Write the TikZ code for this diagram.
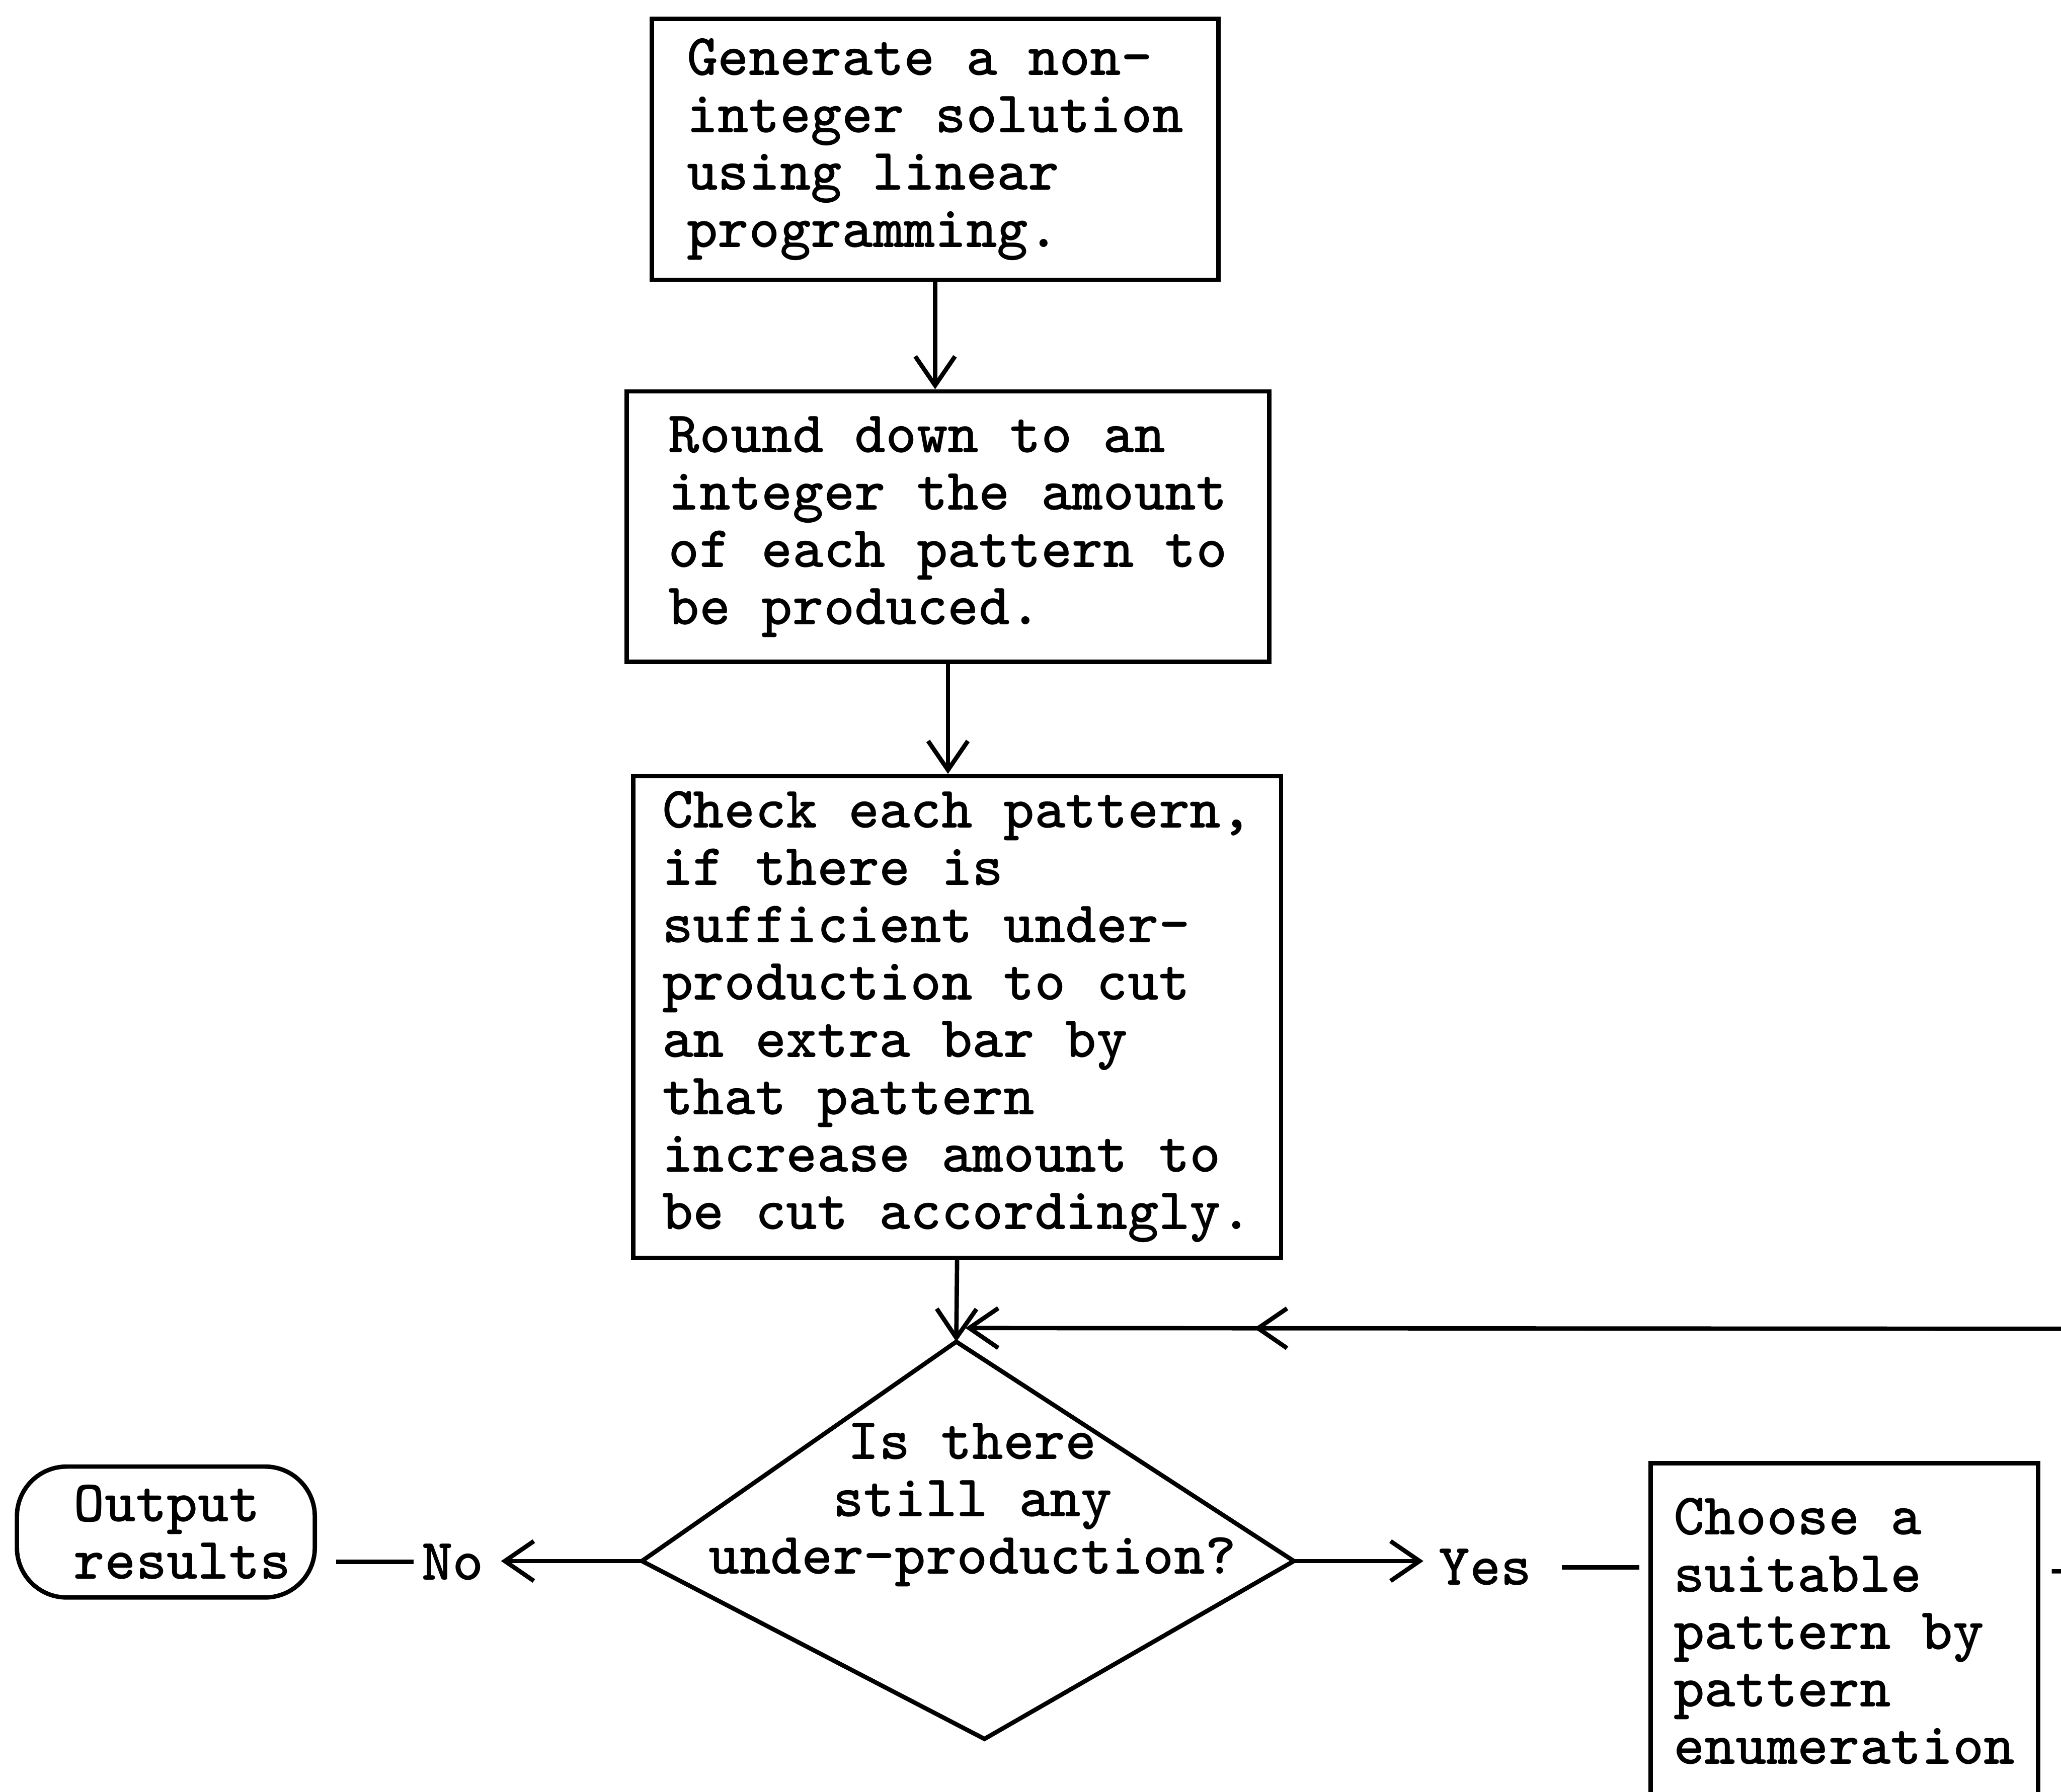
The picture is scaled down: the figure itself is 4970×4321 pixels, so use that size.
\documentclass[tikz,border=0pt]{standalone}
\usepackage{tikz}
\usetikzlibrary{shapes.geometric,arrows.meta,positioning,decorations.markings}

\begin{document}
\begin{tikzpicture}[x=0.005cm,y=-0.005cm,line width=1.5pt,
    every node/.style={font=\fontsize{20.3}{19.7}\selectfont\ttfamily\bfseries},
    process/.style={draw,align=left,inner sep=0pt},
    terminal/.style={draw,align=left,rounded corners=0.6cm,inner sep=0pt},
    answer/.style={inner sep=0pt},
    flow/.style={-{Straight Barb[length=0.35cm,width=0.48cm]}},
    back/.style={postaction={decorate},decoration={markings,
      mark=at position -3.585cm with {\arrow{Straight Barb[length=0.35cm,width=0.48cm]}}}}]
  \useasboundingbox (0,0) rectangle (4970,4321);
  \clip (0,0) rectangle (4970,4321);
  \node[process,minimum width=6.84cm,minimum height=3.15cm] (generate) at (2255,360) {Generate a non-\\integer solution\\using linear\\programming.};
  \node[process,minimum width=7.755cm,minimum height=3.265cm,below=1.295cm of generate,xshift=0.155cm] (rounddown) {Round down to an\\integer the amount\\of each pattern to\\be produced.};
  \node[process,minimum width=7.82cm,minimum height=5.815cm,below=1.325cm of rounddown,xshift=0.11cm] (check) {Check each pattern,\\if there is\\sufficient under-\\production to cut\\an extra bar by\\that pattern\\increase amount to\\be cut accordingly.};
  % decision
  \coordinate (dtop) at (2306,3236);
  \coordinate (dleft) at (1548,3765);
  \coordinate (dbottom) at (2374,4194);
  \coordinate (dright) at (3120,3765);
  \draw (dtop) -- (dleft) -- (dbottom) -- (dright) -- cycle;
  \node[align=center,inner sep=0pt] (question) at (2345,3630) {Is there\\still any\\under-production?};
  \coordinate (join) at (2308,3203);
  \node[answer] (yes) at (3582,3780) {Yes};
  \node[answer] (no) at (1092,3767) {No};
  \node[terminal,minimum width=3.595cm,minimum height=1.58cm] (output) at (400,3695) {\hspace*{0.4cm}Output\\\hspace*{0.4cm}results};
  \node[process,anchor=north west,minimum width=4.675cm,minimum height=4.05cm] (choose) at (3975,3524) {Choose a\\suitable\\pattern by\\pattern\\enumeration};
  % Arrows
  \draw[flow] (generate.south) -- (generate.south |- rounddown.north);
  \draw[flow] (rounddown.south) -- (rounddown.south |- check.north);
  \draw[flow] (check.south) -- (dtop);
  \draw[flow,shorten >=0.16cm] (dright) -- (dright -| yes.west);
  \draw[shorten <=0.335cm,shorten >=0.11cm] (yes.east) -- (yes.east -| choose.west);
  \draw[flow,shorten >=0.18cm] (dleft) -- (dleft -| no.east);
  \draw[shorten <=0.075cm,shorten >=0.23cm] (no.west) -- (no.west -| output.east);
  \draw[flow,back,shorten <=0.14cm,shorten >=0.1cm] ([yshift=-1.33cm]choose.north east) -- (5100,3790) -- (5100,3205) -- (join);
\end{tikzpicture}
\end{document}
